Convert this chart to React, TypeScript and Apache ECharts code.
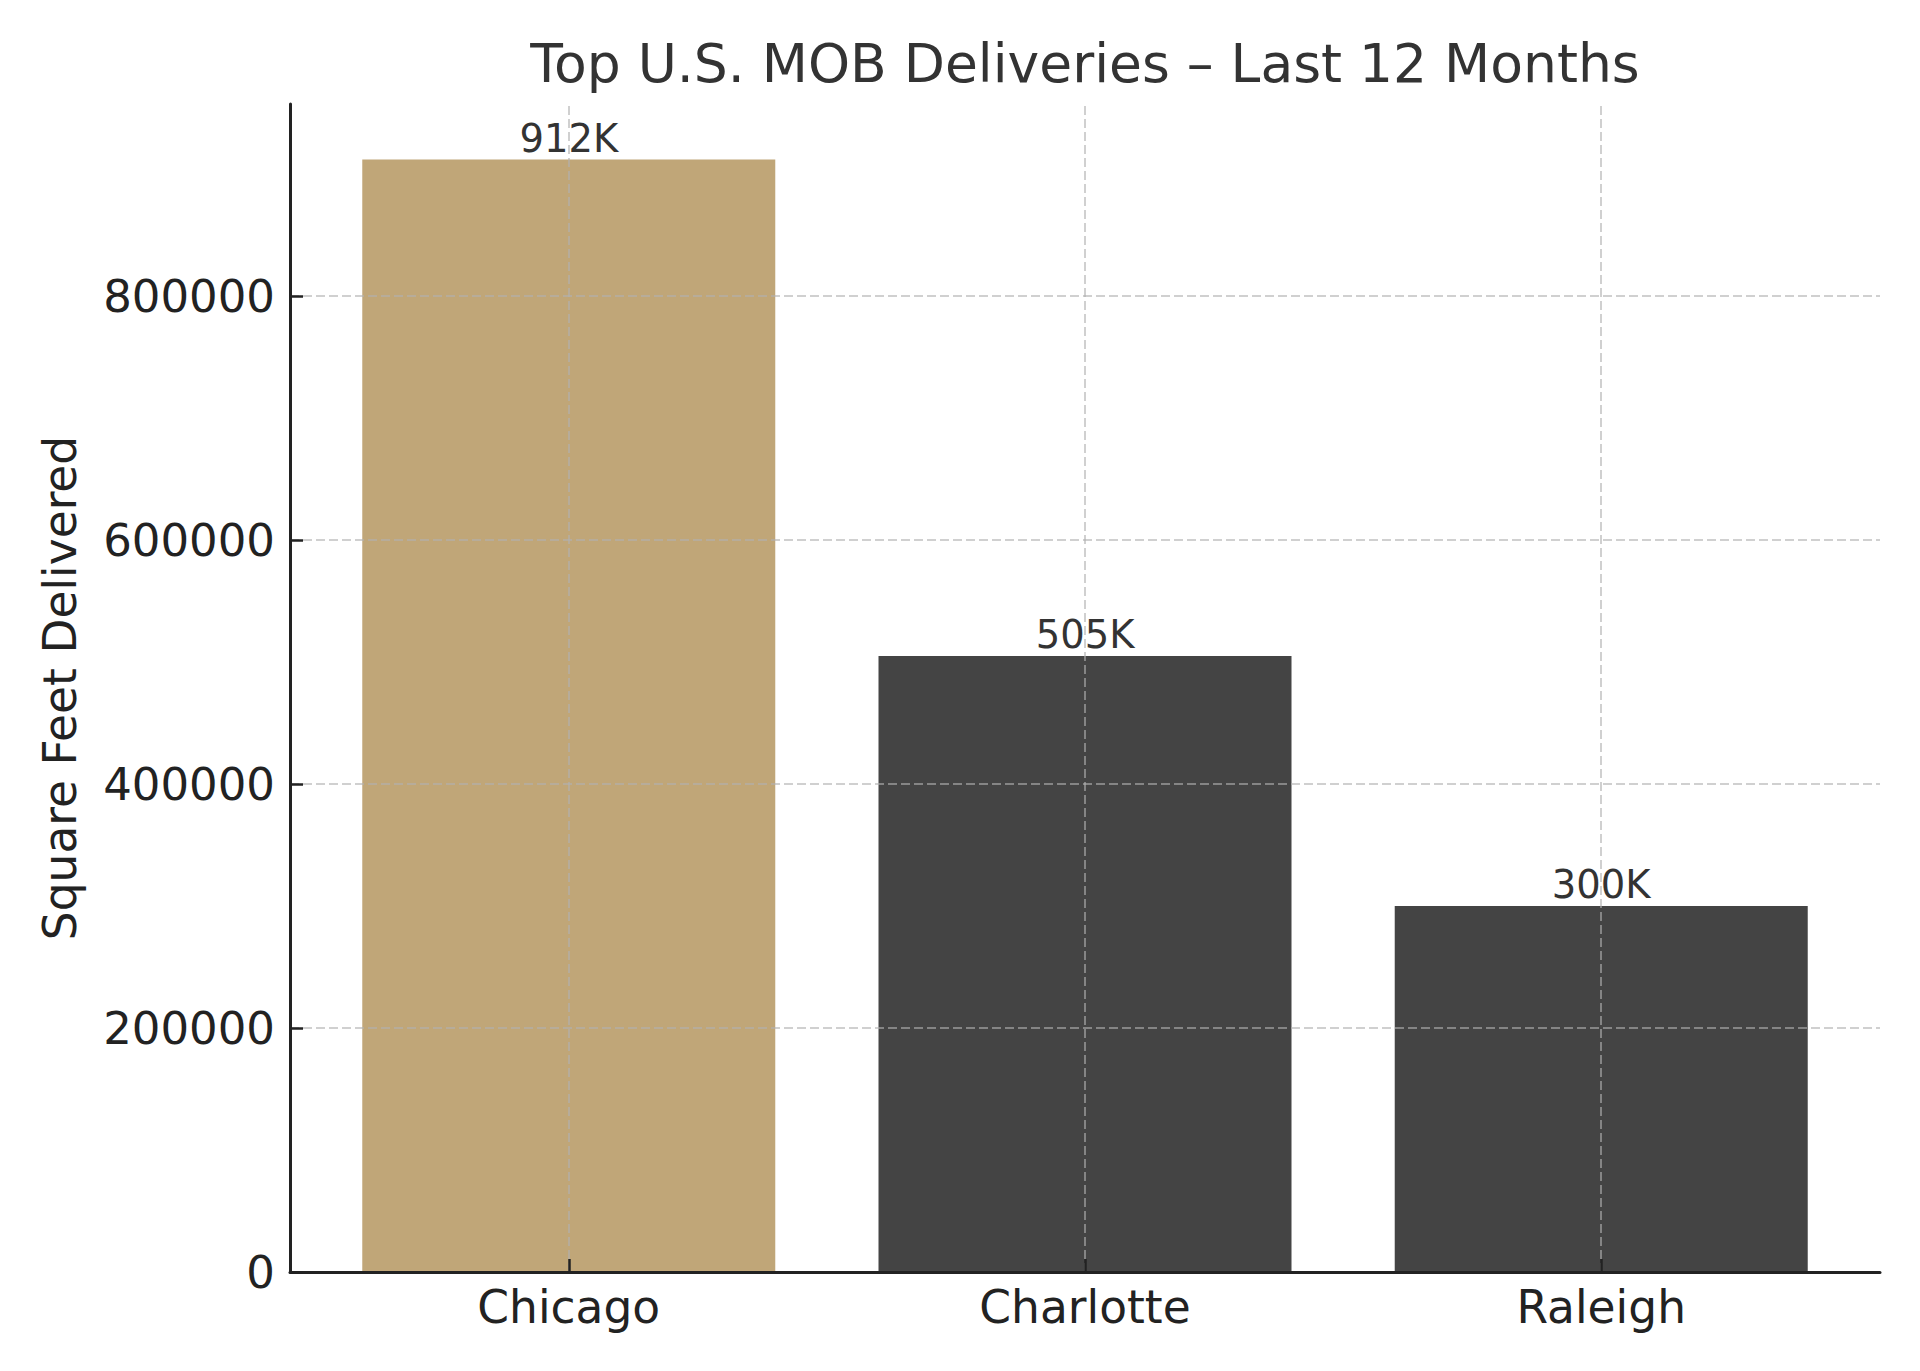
import React, { useEffect, useRef } from "react";
import * as echarts from "echarts";

const categories = ["Chicago", "Charlotte", "Raleigh"];
const values = [912000, 505000, 300000];
const barColors = ["#c0a678", "#444444", "#444444"];
const yTicks = [0, 200000, 400000, 600000, 800000];
const titleText = "Top U.S. MOB Deliveries – Last 12 Months";
const yName = "Square Feet Delivered";

const FONT = "DejaVu Sans";

export default function App() {
  const ref = useRef<HTMLDivElement>(null);
  useEffect(() => {
    if (!ref.current) return;
    const chart = echarts.init(ref.current, null, { renderer: "svg" });
    const idx = categories.map((_, i) => i);
    const gridColor = "rgba(176,176,176,0.6)";
    chart.setOption({
      animation: false,
      backgroundColor: "#ffffff",
      title: {
        text: titleText,
        left: 1080,
        top: 31,
        textAlign: "center",
        textStyle: { fontFamily: FONT, fontSize: 53.5, fontWeight: "normal", color: "#333333" },
      },
      grid: { left: 290, right: 40, top: 104, bottom: 99, containLabel: false },
      xAxis: {
        type: "value",
        min: -0.54,
        max: 2.54,
        splitLine: { show: false },
        axisLine: { show: true, onZero: false, lineStyle: { color: "#222222", width: 3 } },
        axisTick: { show: true, inside: true, length: 13, customValues: idx, lineStyle: { color: "#222222", width: 2.5 } },
        axisLabel: {
          customValues: idx,
          formatter: (v: number) => categories[Math.round(v)] ?? "",
          fontFamily: FONT,
          fontSize: 45.5,
          color: "#222222",
          margin: 12,
        },
        z: 6,
      },
      yAxis: {
        type: "value",
        min: 0,
        max: 957600,
        name: yName,
        nameLocation: "middle",
        nameRotate: 90,
        nameGap: 207,
        nameTextStyle: { fontFamily: FONT, fontSize: 45.5, color: "#222222" },
        splitLine: { show: false },
        axisLine: { show: true, onZero: false, lineStyle: { color: "#222222", width: 3 } },
        axisTick: { show: true, inside: true, length: 13, customValues: yTicks, lineStyle: { color: "#222222", width: 2.5 } },
        axisLabel: {
          customValues: yTicks,
          formatter: (v: number) => String(v),
          fontFamily: FONT,
          fontSize: 45,
          color: "#222222",
          margin: 15,
        },
        z: 6,
      },
      series: [
        {
          type: "bar",
          barWidth: 413,
          data: values.map((v, i) => ({ value: [i, v], itemStyle: { color: barColors[i] } })),
          label: {
            show: true,
            position: "top",
            distance: 2,
            formatter: (p: any) => Math.round(p.value[1] / 1000) + "K",
            fontFamily: FONT,
            fontSize: 38.5,
            color: "#333333",
          },
          markLine: {
            silent: true,
            symbol: "none",
            animation: false,
            label: { show: false },
            lineStyle: { color: gridColor, width: 2, type: [9, 4] },
            data: [
              ...yTicks.filter((t) => t > 0).map((t) => ({ yAxis: t })),
              ...idx.map((i) => ({ xAxis: i })),
            ],
          },
        },
      ],
    });
    return () => chart.dispose();
  }, []);
  return (
    <div
      ref={ref}
      style={{ position: "fixed", left: 0, top: 0, width: 1920, height: 1371, background: "#fff" }}
    />
  );
}
